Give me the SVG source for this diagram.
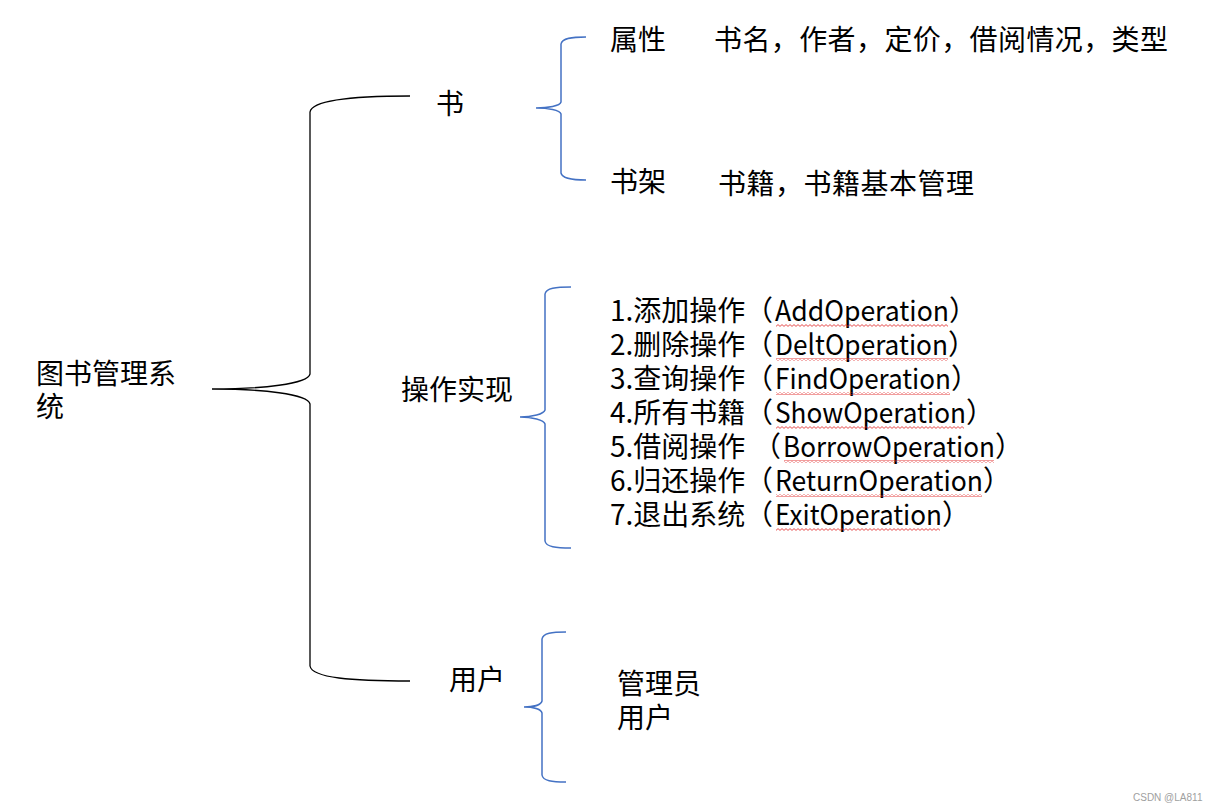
<svg xmlns="http://www.w3.org/2000/svg" width="1220" height="811" viewBox="0 0 1220 811">
<style>
text{font-family:"Noto Sans CJK SC","Noto Sans",sans-serif;font-size:28px;fill:#000}
.br{fill:none;stroke:#4472C4;stroke-width:1.5}
.bk{fill:none;stroke:#000;stroke-width:1.3}
.wv{fill:url(#wave)}
.wm{font-family:"Liberation Sans",sans-serif;font-size:10px;fill:#a0a0a0}
</style>
<defs>
<pattern id="wave" patternUnits="userSpaceOnUse" width="4" height="3">
<polyline points="0,2.4 2,0.6 4,2.4" fill="none" stroke="#e02020" stroke-width="0.8"/>
</pattern>
</defs>
<rect width="1220" height="811" fill="#fff"/>
<g id="connectors">
<path class="bk" d="M410,96 C352,96 312,100 310,112 L310,374 C308,384 262,389 212,389 C262,389 308,394 310,404 L310,666 C312,678 352,681 410,681"/>
<path class="br" d="M586,37 C572,37 562,38 561,44 L561,102 C560,106 548,108 536,108 C548,108 560,110 561,114 L561,173 C562,178 572,180 586,180"/>
<path class="br" d="M571,287 C556,287 546,288 545,294 L545,410 C544,414 532,417 520,417 C532,417 544,420 545,424 L545,541 C546,547 556,548 571,548"/>
<path class="br" d="M566,632 C552,632 543,633 542,639 L542,701 C541,705 533,707 524,707 C533,707 541,709 542,713 L542,775 C543,781 552,782 566,782"/>
</g>
<g id="root"><text x="36" y="384">图书管理系</text><text x="36" y="417">统</text></g>
<g id="book"><text x="436" y="114">书</text></g>
<g id="attr"><text x="610" y="50">属性</text><text x="714" y="50" textLength="454" lengthAdjust="spacing">书名，作者，定价，借阅情况，类型</text></g>
<g id="shelf"><text x="610" y="192">书架</text><text x="718" y="194" textLength="256" lengthAdjust="spacing">书籍，书籍基本管理</text></g>
<g id="ops"><text x="401" y="400">操作实现</text></g>
<g id="oplist">
<text x="610" y="321">1.添加操作<tspan x="745">（</tspan><tspan x="775" textLength="174" lengthAdjust="spacingAndGlyphs">AddOperation</tspan>）</text>
<text x="610" y="355">2.删除操作<tspan x="745">（</tspan><tspan x="775" textLength="173" lengthAdjust="spacingAndGlyphs">DeltOperation</tspan>）</text>
<text x="610" y="389">3.查询操作<tspan x="745">（</tspan><tspan x="775" textLength="176" lengthAdjust="spacingAndGlyphs">FindOperation</tspan>）</text>
<text x="610" y="423">4.所有书籍<tspan x="745">（</tspan><tspan x="775" textLength="191" lengthAdjust="spacingAndGlyphs">ShowOperation</tspan>）</text>
<text x="610" y="457">5.借阅操作<tspan x="753">（</tspan><tspan x="783" textLength="212" lengthAdjust="spacingAndGlyphs">BorrowOperation</tspan>）</text>
<text x="610" y="491">6.归还操作<tspan x="745">（</tspan><tspan x="775" textLength="208" lengthAdjust="spacingAndGlyphs">ReturnOperation</tspan>）</text>
<text x="610" y="525">7.退出系统<tspan x="745">（</tspan><tspan x="775" textLength="167" lengthAdjust="spacingAndGlyphs">ExitOperation</tspan>）</text>
</g>
<g id="spellcheck">
<rect class="wv" x="776" y="324" width="172" height="3"/>
<rect class="wv" x="776" y="358" width="172" height="3"/>
<rect class="wv" x="776" y="392" width="174" height="3"/>
<rect class="wv" x="776" y="426" width="188" height="3"/>
<rect class="wv" x="784" y="460" width="210" height="3"/>
<rect class="wv" x="776" y="494" width="206" height="3"/>
<rect class="wv" x="776" y="528" width="164" height="3"/>
</g>
<g id="user"><text x="449" y="690">用户</text></g>
<g id="userlist"><text x="617" y="694">管理员</text><text x="617" y="728">用户</text></g>
<text class="wm" x="1133" y="801">CSDN @LA811</text>
</svg>
